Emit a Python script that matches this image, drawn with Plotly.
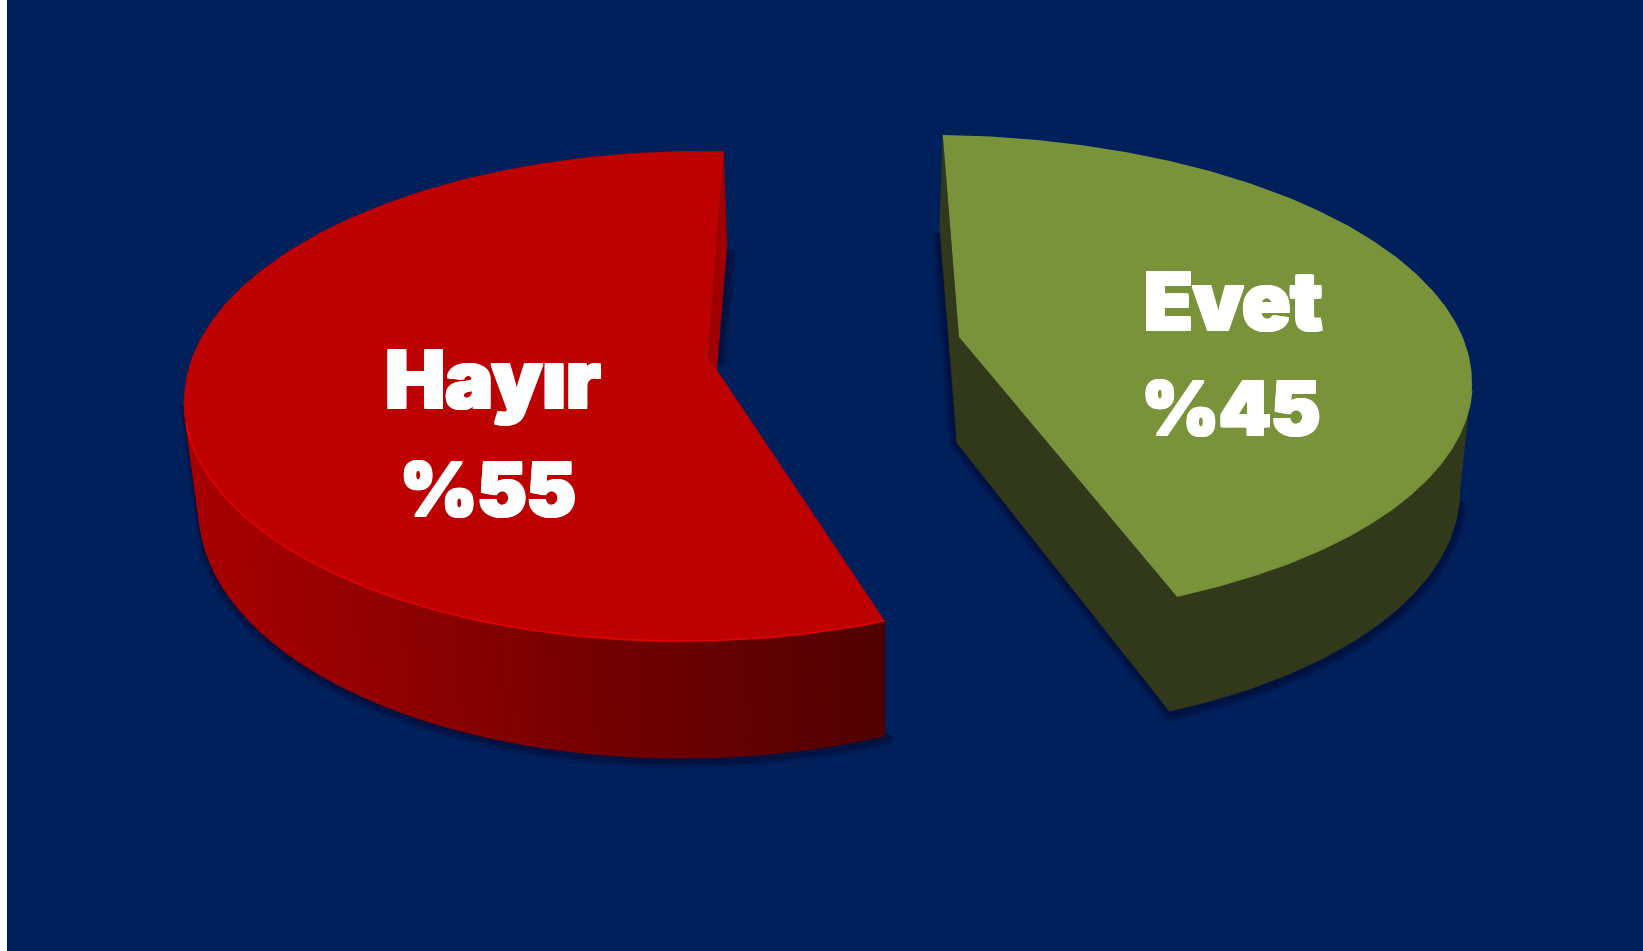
import numpy as np
import plotly.graph_objects as go

# --- data ---
labels = ["Hayır", "Evet"]
shares = [55, 45]
share_text = ["%55", "%45"]

# --- drawing constants (pixel space of the 1643x951 canvas) ---
W, H = 1643, 951
NAVY = "#00205C"
GEO = {
    "Hayır": dict(top=(692, 396, 508, 245, -0.01), low=(696, 502, 497, 256, -0.015), start=3.6, skew=7.9, dir=-1,
                  apex_top=(708, 358), apex_mid=(717, 370), apex_low=None,
                  face="#BD0000", wedge="#A00000", rim="#E60000"),
    "Evet": dict(top=(940, 377, 532, 242, 0.01), low=(937, 480, 523, 253, 0.02), start=0.3, skew=-8.7, dir=1,
                 apex_top=(959, 337), apex_mid=None, apex_low=(957, 443),
                 face="#7A933B", wedge="#32391A", rim="#75903A"),
}


def ell(e, th):
    th = np.radians(th)
    dx = e[2] * np.sin(th)
    return e[0] + dx, e[1] - e[3] * np.cos(th) + e[4] * dx


fig = go.Figure()


def poly(x, y, color, lw=0.0, lc=None):
    fig.add_trace(go.Scatter(x=list(x), y=list(y), mode="lines", fill="toself", fillcolor=color,
                             line=dict(color=lc or color, width=lw), hoverinfo="skip", showlegend=False))


def stroke(x, y, color, w):
    fig.add_trace(go.Scatter(x=list(x), y=list(y), mode="lines", line=dict(color=color, width=w),
                             hoverinfo="skip", showlegend=False))


def angles(name, share):
    g = GEO[name]
    sweep = share * 3.6 + g["skew"]
    return g["start"], g["start"] + g["dir"] * sweep


# shadows
for w in (15, 12, 9, 6, 3):
    col = "rgba(0,8,40,0.13)"
    g = GEO["Hayır"]
    a0, a1 = angles("Hayır", shares[0])
    t = np.linspace(-90, a1, 120)
    x, y = ell(g["low"], t)
    sx, sy = ell(g["low"], a0)
    stroke(np.r_[g["top"][0] - g["top"][2] + 2, x + 1, x[-1] + 3], np.r_[405, y + 3, y[-1] - 2], col, w)
    stroke([sx + 3, g["apex_mid"][0] + 2], [sy + 4, g["apex_mid"][1] - 6], col, w)
    g = GEO["Evet"]
    a0, a1 = angles("Evet", shares[1])
    t = np.linspace(92, a1, 100)
    x, y = ell(g["low"], t)
    sx, sy = ell(g["low"], a0)
    stroke(np.r_[sx - 1, g["apex_low"][0] - 1, x[::-1] + 1], np.r_[sy + 6, g["apex_low"][1], y[::-1] + 3], col, w)

# wedge faces and rims
for name, share in zip(labels, shares):
    g = GEO[name]
    a0, a1 = angles(name, share)
    top, low = g["top"], g["low"]
    sx, sy = ell(top, a0)
    lx, ly = ell(low, a0)
    ex, ey = ell(top, a1)
    fx, fy = ell(low, a1)
    if name == "Hayır":
        mx, my = g["apex_mid"]
        ax, ay = g["apex_top"]
        poly([sx, lx, mx, ax], [sy, ly, my, ay], g["wedge"])
        ts = np.linspace(-90, a1, 64)
        left, right = 170.0, 80.0
        x0, x1 = ell(low, -90)[0], fx
        for a, b in zip(ts[:-1], ts[1:]):
            tt = np.linspace(a, b, 5)
            ux, uy = ell(top, tt)
            dx, dy = ell(low, tt)
            mid = float(np.mean(dx))
            r = int(round(left + (right - left) * (mid - x0) / (x1 - x0)))
            c = f"rgb({r},0,0)"
            poly(np.r_[ux, dx[::-1]], np.r_[uy, dy[::-1]], c, 1.0)
    else:
        ax, ay = g["apex_top"]
        bx, by = g["apex_low"]
        poly([sx, lx, bx, ax], [sy, ly, by, ay], g["wedge"], 0.5)
        poly([ax, bx, fx, ex], [ay, by, fy, ey], g["wedge"], 0.5)
        ts = np.linspace(90, a1, 60)
        ux, uy = ell(top, ts)
        dx, dy = ell(low, ts)
        poly(np.r_[ux, dx[::-1]], np.r_[uy, dy[::-1]], g["wedge"], 0.5)

# top faces
for name, share in zip(labels, shares):
    g = GEO[name]
    a0, a1 = angles(name, share)
    t = np.linspace(a0, a1, 240)
    x, y = ell(g["top"], t)
    if name == "Hayır":
        xs = np.r_[x, g["apex_mid"][0], g["apex_top"][0]]
        ys = np.r_[y, g["apex_mid"][1], g["apex_top"][1]]
    else:
        xs = np.r_[x, g["apex_top"][0]]
        ys = np.r_[y, g["apex_top"][1]]
    poly(xs, ys, g["face"])
    rim_from = -95 if name == "Hayır" else 92
    tr = np.linspace(rim_from, a1, 120)
    rx, ry = ell(g["top"], tr)
    stroke(rx, ry, g["rim"], 1.6)

# labels
TXT = {"Hayır": (493, 388, 488, 497), "Evet": (1233, 310, 1231, 416)}
HEAVY = ("1px 0 white,-1px 0 white,0 1px white,0 -1px white,"
         "1.5px 1px white,-1.5px 1px white,1.5px -1px white,-1.5px -1px white")
for name, val in zip(labels, share_text):
    px, y1, px2, y2 = TXT[name]
    fig.add_trace(go.Scatter(
        x=[px], y=[y1], mode="text", text=[name], textposition="middle center",
        textfont=dict(family="Inter, Roboto, 'DejaVu Sans'", size=80, color="white", weight=900, shadow=HEAVY),
        hoverinfo="skip", showlegend=False))
    fig.add_trace(go.Scatter(
        x=[px2], y=[y2], mode="text", text=[val], textposition="middle center",
        textfont=dict(family="Inter, Roboto, 'DejaVu Sans'", size=74, color="white", weight=900, shadow=HEAVY),
        hoverinfo="skip", showlegend=False))

fig.update_layout(
    width=W, height=H, margin=dict(l=0, r=0, t=0, b=0), paper_bgcolor=NAVY, plot_bgcolor=NAVY,
    xaxis=dict(range=[0, W], visible=False, fixedrange=True),
    yaxis=dict(range=[H, 0], visible=False, fixedrange=True),
    showlegend=False,
    shapes=[dict(type="rect", xref="x", yref="y", x0=0, x1=7, y0=0, y1=H, fillcolor="white", line_width=0)],
)
fig.write_html("out.html", config={"displayModeBar": False},
               post_script="document.body.style.margin='0';document.documentElement.style.overflow='hidden';")
